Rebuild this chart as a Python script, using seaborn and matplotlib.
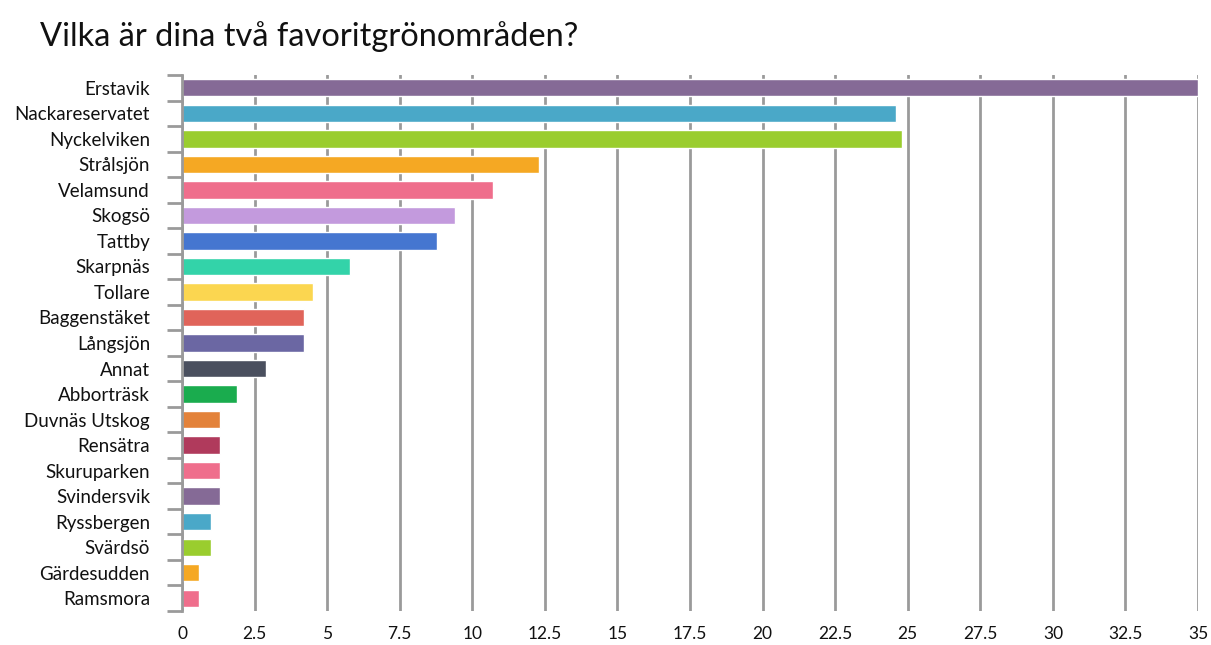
import matplotlib
matplotlib.use('Agg')
import numpy as np
import pandas as pd
import matplotlib.pyplot as plt
from matplotlib.ticker import FixedLocator, MultipleLocator
import seaborn as sns

TITLE = 'Vilka är dina två favoritgrönområden?'

areas = ['Erstavik', 'Nackareservatet', 'Nyckelviken', 'Strålsjön', 'Velamsund',
         'Skogsö', 'Tattby', 'Skarpnäs', 'Tollare', 'Baggenstäket', 'Långsjön',
         'Annat', 'Abborträsk', 'Duvnäs Utskog', 'Rensätra', 'Skuruparken',
         'Svindersvik', 'Ryssbergen', 'Svärdsö', 'Gärdesudden', 'Ramsmora']
values = [35.0, 24.6, 24.8, 12.3, 10.7, 9.4, 8.8, 5.8, 4.5, 4.2, 4.2,
          2.9, 1.9, 1.3, 1.3, 1.3, 1.3, 1.0, 1.0, 0.6, 0.6]
colors = ['#856a96', '#4aa8c8', '#9acd2e', '#f5a823', '#ef6e8c', '#c39add',
          '#4576d0', '#33d3a9', '#fbd650', '#e0645a', '#6b67a3', '#4a4f5e',
          '#1aac4e', '#e3823a', '#b03a5c', '#ef6e8c', '#856a96', '#4aa8c8',
          '#9acd2e', '#f5a823', '#ef6e8c']

df = pd.DataFrame({'area': areas, 'value': values})

sns.set_style('white')
plt.rcParams['font.family'] = ['Lato', 'DejaVu Sans']

fig = plt.figure(figsize=(12.11, 6.45), dpi=100)
ax = fig.add_axes([0.1503, 0.0527, 0.839, 0.831])

sns.barplot(data=df, x='value', y='area', hue='area', palette=colors,
            legend=False, orient='h', width=0.68, saturation=1, ax=ax)

grid_col = '#9a9a9a'
ax.set_xlim(0, 35)
ax.set_ylim(len(areas) - 0.5, -0.5)
ax.xaxis.set_major_locator(MultipleLocator(2.5))
ax.set_xticklabels([f'{t:g}' for t in ax.get_xticks()])
ax.grid(axis='x', color=grid_col, linewidth=2)
ax.set_axisbelow(True)

for s in ['top', 'right', 'bottom']:
    ax.spines[s].set_visible(False)
ax.spines['left'].set_color(grid_col)
ax.spines['left'].set_linewidth(2)

ax.yaxis.set_minor_locator(FixedLocator(np.arange(-0.5, len(areas), 1.0)))
ax.tick_params(axis='y', which='minor', length=11, width=2, color=grid_col, left=True)
ax.tick_params(axis='y', which='major', length=0, pad=23, labelsize=13.5, labelcolor='#111111')
ax.tick_params(axis='x', length=0, pad=11, labelsize=12.5, labelcolor='#111111')

ax.set_xlabel('')
ax.set_ylabel('')

fig.text(0.033, 0.943, TITLE, fontsize=23.5, color='#111111', va='center', ha='left')

fig.savefig('out.png', dpi=100)
